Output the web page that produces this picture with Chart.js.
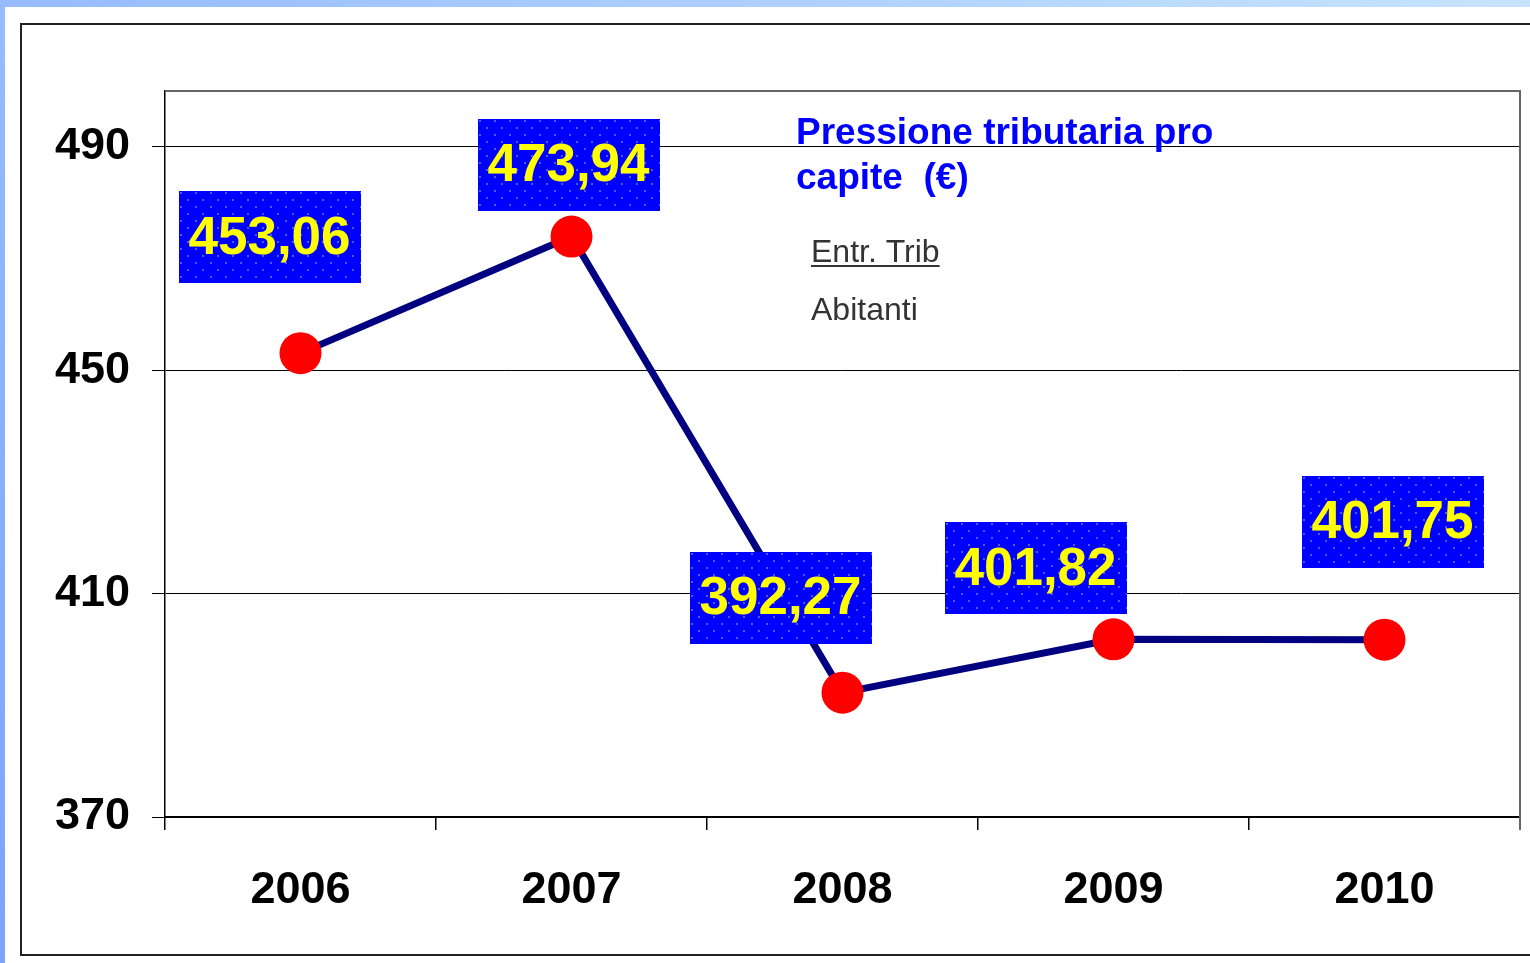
<!DOCTYPE html>
<html>
<head>
<meta charset="utf-8">
<script src="https://cdn.jsdelivr.net/npm/chart.js@4.4.1/dist/chart.umd.min.js"></script>
<style>
html,body{margin:0;padding:0;background:#fff;overflow:hidden;}
#wrap{position:relative;width:1530px;height:963px;}
canvas{display:block;}
</style>
</head>
<body>
<div id="wrap"><canvas id="c" width="1530" height="963"></canvas></div>
<script>
// ---- data ----
const years = ['2006', '2007', '2008', '2009', '2010'];
const values = [453.06, 473.94, 392.27, 401.82, 401.75];
const valueLabels = ['453,06', '473,94', '392,27', '401,82', '401,75'];
const yTicks = [370, 410, 450, 490];
const titleLines = ['Pressione tributaria pro', 'capite  (€)'];
const noteLines = ['Entr. Trib', 'Abitanti'];
// label box offsets relative to each point (layout only)
const labelOffsets = [[-31, -116], [-3, -72], [-62, -95], [-78, -71], [8, -118]];

const FONT = '"Liberation Sans", Arial, sans-serif';

function makePattern(ctx) {
  const p = document.createElement('canvas');
  p.width = 15; p.height = 14;
  const g = p.getContext('2d');
  g.fillStyle = '#0000FF';
  g.fillRect(0, 0, 15, 14);
  g.fillStyle = '#4a5cff';
  g.fillRect(1, 1, 2, 2);
  g.fillRect(8, 8, 2, 2);
  return ctx.createPattern(p, 'repeat');
}

const framePlugin = {
  id: 'frame',
  beforeDraw(chart) {
    const ctx = chart.ctx;
    ctx.save();
    ctx.fillStyle = '#fff';
    ctx.fillRect(0, 0, chart.width, chart.height);
    let gr = ctx.createLinearGradient(0, 0, chart.width, 0);
    gr.addColorStop(0, '#96bbff');
    gr.addColorStop(1, '#c6e4ff');
    ctx.fillStyle = gr;
    ctx.fillRect(0, 0, chart.width, 7);
    gr = ctx.createLinearGradient(0, 0, 0, chart.height);
    gr.addColorStop(0, '#96bbff');
    gr.addColorStop(1, '#7aa4ff');
    ctx.fillStyle = gr;
    ctx.fillRect(0, 0, 5, chart.height);
    ctx.strokeStyle = '#222';
    ctx.lineWidth = 2;
    ctx.strokeRect(21, 24, chart.width + 20, 931);
    ctx.restore();
  },
  beforeDatasetsDraw(chart) {
    const a = chart.chartArea;
    const ctx = chart.ctx;
    ctx.save();
    ctx.strokeStyle = '#666';
    ctx.lineWidth = 2;
    ctx.beginPath();
    ctx.moveTo(a.left, a.top);
    ctx.lineTo(a.right, a.top);
    ctx.lineTo(a.right, a.bottom + 13);
    ctx.stroke();
    ctx.textBaseline = 'alphabetic';
    ctx.textAlign = 'left';
    ctx.fillStyle = '#0000FF';
    ctx.font = 'bold 37px ' + FONT;
    ctx.fillText(titleLines[0], 796, 144);
    ctx.fillText(titleLines[1], 796, 189);
    ctx.fillStyle = '#333';
    ctx.font = '32px ' + FONT;
    ctx.fillText(noteLines[0], 811, 262);
    const w = ctx.measureText(noteLines[0]).width;
    ctx.fillRect(811, 265, w, 2);
    ctx.fillText(noteLines[1], 811, 320);
    ctx.restore();
  },
  afterDatasetsDraw(chart) {
    const ctx = chart.ctx;
    const meta = chart.getDatasetMeta(0);
    const pat = makePattern(ctx);
    ctx.save();
    meta.data.forEach((pt, i) => {
      const cx = pt.x + labelOffsets[i][0];
      const cy = pt.y + labelOffsets[i][1];
      const bw = 182, bh = 92;
      ctx.fillStyle = pat;
      ctx.save();
      ctx.translate(Math.round(cx - bw / 2), Math.round(cy - bh / 2));
      ctx.fillRect(0, 0, bw, bh);
      ctx.restore();
      ctx.fillStyle = '#FFFF00';
      ctx.font = 'bold 53px ' + FONT;
      ctx.textAlign = 'center';
      ctx.textBaseline = 'middle';
      ctx.fillText(valueLabels[i], cx, cy + 2);
    });
    ctx.restore();
  }
};

new Chart(document.getElementById('c'), {
  type: 'line',
  data: {
    labels: years,
    datasets: [{
      data: values,
      borderColor: '#000080',
      borderWidth: 7,
      pointBackgroundColor: '#FF0000',
      pointBorderColor: '#FF0000',
      pointBorderWidth: 0,
      pointRadius: 21,
      tension: 0,
      fill: false,
      clip: false
    }]
  },
  options: {
    responsive: false,
    animation: false,
    events: [],
    layout: { autoPadding: false, padding: { top: 91, right: 10, bottom: 0, left: 0 } },
    plugins: { legend: { display: false }, tooltip: { enabled: false } },
    scales: {
      x: {
        offset: true,
        grid: { offset: true, drawOnChartArea: false, drawTicks: true, tickLength: 13, color: '#000', lineWidth: 1.5 },
        border: { color: '#000', width: 2 },
        ticks: { color: '#000', font: { family: FONT, size: 45, weight: 'bold' }, padding: 34, maxRotation: 0 },
        afterFit(s) { s.height = 146; }
      },
      y: {
        min: 370, max: 500,
        afterBuildTicks(s) { s.ticks = yTicks.map(v => ({ value: v })); },
        grid: { color: '#000', lineWidth: 1, tickLength: 13 },
        border: { color: '#000', width: 1.5 },
        ticks: { color: '#000', font: { family: FONT, size: 45, weight: 'bold' }, padding: 22 },
        afterFit(s) { s.width = 165; }
      }
    }
  },
  plugins: [framePlugin]
});
</script>
</body>
</html>
